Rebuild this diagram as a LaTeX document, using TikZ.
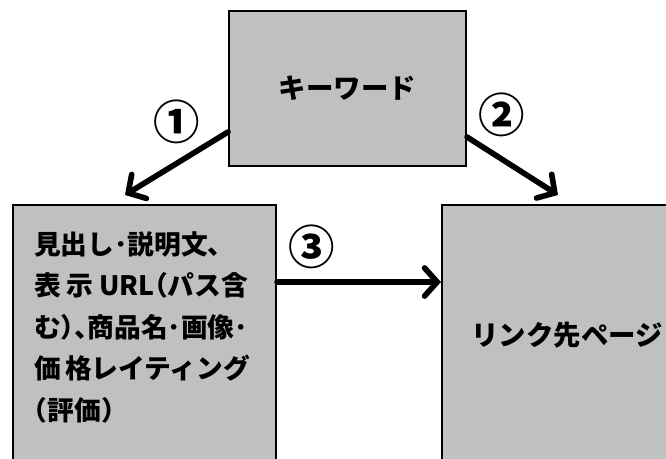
\documentclass[tikz,border=0pt]{standalone}
\usepackage{fontspec}
\setmainfont{Noto Sans CJK JP}
\usetikzlibrary{arrows.meta,positioning,calc}
\definecolor{boxgray}{RGB}{192,192,192}
\newcommand{\jline}[1]{\makebox[152pt][s]{#1}}
\newcommand{\halfl}[1]{\makebox[0.5em][l]{#1}}
\newcommand{\halfr}[1]{\makebox[0.5em][r]{#1}}

\begin{document}
\begin{tikzpicture}[x=0.025cm, y=-0.025cm,
    box/.style={draw, fill=boxgray, line width=1.4pt, inner sep=0pt,
        font=\fontsize{19.5}{19.5}\selectfont\bfseries},
    flow/.style={line width=4pt, line cap=round,
        -{Straight Barb[length=9pt,width=20pt,line cap=round]}},
    num/.style={font=\fontsize{33}{33}\selectfont\bfseries}]
    \useasboundingbox (0,0) rectangle (666,459);
    \clip (0,0) rectangle (666,459);

    \node[box, anchor=north west, minimum width=5.925cm, minimum height=3.875cm]
        (keyword) at (228,10) {キーワード};
    \node[box, anchor=north west, minimum width=6.575cm, minimum height=6.75cm]
        (snippet) at (12,204) {};
    \node[box, anchor=north west, minimum width=6.25cm, minimum height=6.5cm]
        (link) at (441,204) {リンク先ページ};

    \node[anchor=north west, inner sep=0pt, align=left,
        font=\fontsize{19}{29.5}\selectfont\bfseries]
        (snippettext) at (34,231) {見出し\halfl{･}説明文、\\
        \jline{表 示 URL\halfr{（}パス含}\\
        \jline{む\halfl{）}\halfl{、}商品名\halfl{･}画像\halfl{･}}\\
        \jline{価 格レイティング}\\
        \halfr{（}評価\halfl{）}};

    \coordinate (tip1) at (125,195);
    \coordinate (tip2) at (558,195);
    \coordinate (start3) at ([yshift=-1.95cm]snippet.north east);
    \draw[flow] ([yshift=0.875cm]keyword.south west) -- (tip1);
    \draw[flow] ([yshift=0.75cm]keyword.south east) -- (tip2);
    \draw[flow] (start3) -- (link.west |- start3);

    \node[num] (one) at (177,122) {①};
    \node[num] (two) at (502,115) {②};
    \node[num] (three) at (312,247) {③};
\end{tikzpicture}
\end{document}
